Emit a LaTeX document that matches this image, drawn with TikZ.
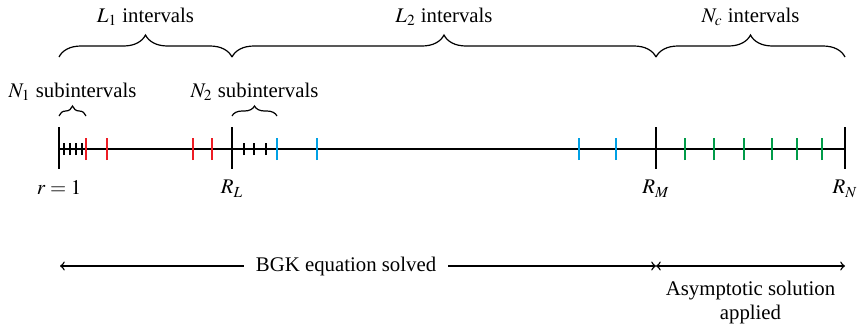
\documentclass[tikz,border=0pt]{standalone}
\usepackage{mathptmx}
\usepackage{fontspec}
\setmainfont{Liberation Serif}
\usetikzlibrary{decorations.pathreplacing, positioning}
\definecolor{tickred}{RGB}{237,28,36}
\definecolor{tickblue}{RGB}{0,160,228}
\definecolor{tickgreen}{RGB}{0,155,72}

\begin{document}
\begin{tikzpicture}[x=0.5pt, y=0.5pt, >=to,
    every node/.style={font=\fontsize{10.4}{11.6}\selectfont},
    axis/.style={line width=0.7pt},
    bigtick/.style={line width=0.8pt},
    subtick/.style={line width=0.7pt},
    bigbrace/.style={decorate, decoration={brace, amplitude=11pt}, line width=0.6pt},
    smallbrace/.style={decorate, decoration={brace, amplitude=5pt}, line width=0.6pt}]
    \useasboundingbox (-59,-184) rectangle (798,149);
    % Points on the radial axis
    \coordinate (r1) at (0,0);
    \coordinate (RL) at (173,0);
    \coordinate (RM) at (597,0);
    \coordinate (RN) at (786,0);
    % Axis
    \draw[axis] (r1) -- (RN);
    % Main ticks
    \foreach \p/\lab in {r1/{r=1}, RL/{R_L}, RM/{R_M}, RN/{R_N}}
        \draw[bigtick] ([yshift=11pt]\p) -- ([yshift=-10pt]\p) node[below=2pt] (lab-\p) {$\lab$};
    % Subintervals
    \foreach \x in {5,11,17,23,185,195,207}
        \draw[subtick] (\x,-6) -- (\x,6);
    \foreach \x in {27,48,134,153}
        \draw[subtick, tickred] (\x,-11) -- (\x,11);
    \foreach \x in {218,258,520,557}
        \draw[subtick, tickblue] (\x,-11) -- (\x,11);
    \foreach \x in {626,655,685,713,738,763}
        \draw[subtick, tickgreen] (\x,-11) -- (\x,11);
    % Braces
    \draw[bigbrace] ([yshift=46pt]r1) -- node[above=12pt] (L1) {$L_1$ intervals} ([yshift=46pt]RL);
    \draw[bigbrace] ([yshift=46pt]RL) -- node[above=12pt] (L2) {$L_2$ intervals} ([yshift=46pt]RM);
    \draw[bigbrace] ([yshift=46pt]RM) -- node[above=12pt] (Nc) {$N_c$ intervals} ([yshift=46pt]RN);
    \draw[smallbrace] ([yshift=16.5pt]r1) -- node[above=4pt] (N1) {$N_1$ subintervals} ([yshift=16.5pt]27,0);
    \draw[smallbrace] ([yshift=16.5pt]RL) -- node[above=4pt] (N2) {$N_2$ subintervals} ([yshift=16.5pt]218,0);
    % Solution regions
    \coordinate (s1) at (1,-117);
    \coordinate (s2) at (597,-117);
    \coordinate (s3) at (786,-117);
    \draw[<->, axis] (s1) -- node[pos=0.48, fill=white, inner xsep=6pt] (bgk) {BGK equation solved} (s2);
    \draw[<->, axis] (s2) -- node[below=4pt, align=center] (asym) {Asymptotic solution\\applied} (s3);
\end{tikzpicture}
\end{document}
